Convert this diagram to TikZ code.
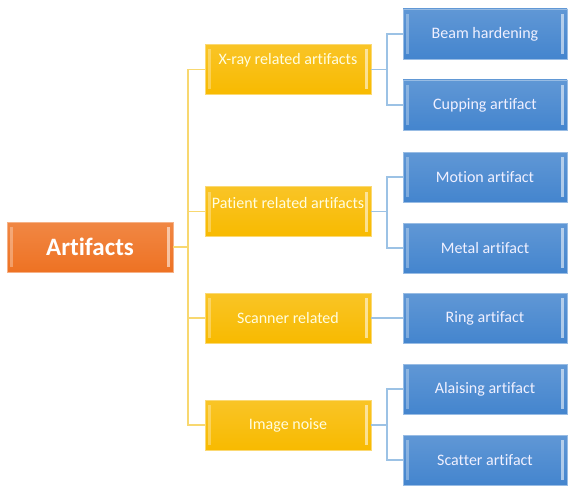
\documentclass[tikz,border=0pt]{standalone}
\usepackage{fontspec}
\setmainfont[Ligatures=NoCommon]{Carlito}
\definecolor{artorange}{HTML}{EE7223}
\definecolor{artyellow}{HTML}{F8BA00}
\definecolor{artblue}{HTML}{4485CE}
\definecolor{trunkline}{HTML}{F8D870}
\definecolor{branchline}{HTML}{9CC2E5}
\begin{document}
\begin{tikzpicture}[x=1pt,y=-1pt,
  bevel/.style={path picture={
    \fill[white,opacity=.3] ([shift={(3pt,-5pt)}]path picture bounding box.north west)
      rectangle ([shift={(6pt,5pt)}]path picture bounding box.south west);
    \fill[white,opacity=.55] ([shift={(-6pt,-5pt)}]path picture bounding box.north east)
      rectangle ([shift={(-3pt,5pt)}]path picture bounding box.south east);}},
  box/.style={bevel,minimum height=50pt,inner sep=0pt,draw=#1!55!white,
    top color=#1!85!white,bottom color=#1},
  rootbox/.style={box=artorange,minimum width=166pt,text=white,
    font=\bfseries\fontsize{25}{30}\selectfont},
  midbox/.style={box=artyellow,minimum width=166pt,text=yellow!12!white,
    font=\fontsize{16}{19}\selectfont},
  leafbox/.style={box=artblue,minimum width=164pt,text=blue!6!white,
    font=\fontsize{16}{19}\selectfont},
  trunk/.style={draw=trunkline,line width=1.5pt},
  branch/.style={draw=branchline,line width=1.5pt}]
\useasboundingbox (0,0) rectangle (568,487);

% root
\node[rootbox] (root) at (90,247) {Artifacts};

% second level
\node[midbox] (xray) at (288,69.5) {\raisebox{9pt}[\height][\depth]{X-ray related artifacts}};
\node[midbox] (patient) at (288,211.5) {\raisebox{8pt}[\height][\depth]{Patient related artifacts}};
\node[midbox] (scanner) at (288,318) {Scanner related};
\node[midbox] (noise) at (288,425) {Image noise};

% leaves
\foreach \name/\y/\txt in {beam/34/Beam hardening, cupping/105/Cupping artifact,
    motion/177/Motion artifact, metal/248/Metal artifact, ring/318/Ring artifact,
    aliasing/389/Alaising artifact, scatter/460/Scatter artifact}
  \node[leafbox] (\name) at (485,\y) {\txt};

% connectors
\foreach \m in {xray,patient,scanner,noise}
  \draw[trunk] (root.east) -| ([xshift=-17pt]\m.west) -- (\m.west);
\foreach \m/\l in {xray/beam,xray/cupping,patient/motion,patient/metal,
    scanner/ring,noise/aliasing,noise/scatter}
  \draw[branch] (\m.east) -| ([xshift=-16pt]\l.west) -- (\l.west);
\end{tikzpicture}
\end{document}
